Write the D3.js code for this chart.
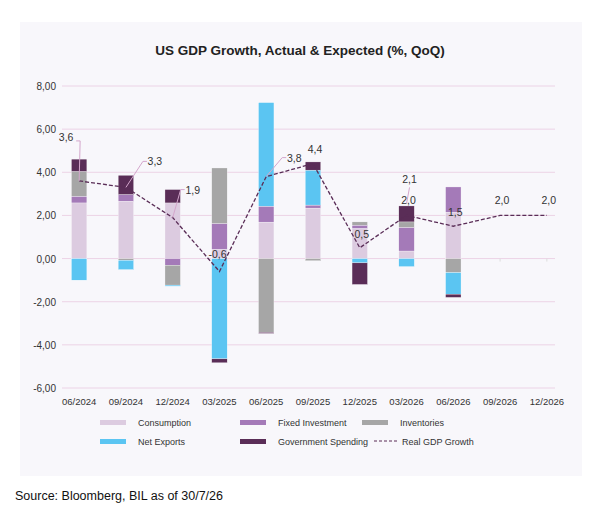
<!DOCTYPE html><html><head><meta charset="utf-8"><script src="https://cdn.jsdelivr.net/npm/d3@7"></script>
<style>body{margin:0;background:#fff;font-family:Arial,"Liberation Sans",sans-serif}</style></head><body><svg id="c" width="607" height="522"></svg>
<script>
const categories=["06/2024","09/2024","12/2024","03/2025","06/2025","09/2025","12/2025","03/2026","06/2026","09/2026","12/2026"];
const consumption=[2.58,2.66,2.58,0.43,1.69,2.34,1.4,0.35,2.15,null,null];
const fixedInvestment=[0.31,0.31,-0.31,1.2,0.74,0.14,0.15,1.1,1.17,null,null];
const inventories=[1.15,-0.08,-0.92,2.57,-3.42,-0.1,0.15,0.25,-0.65,null,null];
const netExports=[-1.0,-0.43,-0.05,-4.65,4.8,1.62,-0.2,-0.37,-1.0,null,null];
const govSpending=[0.57,0.89,0.62,-0.18,-0.05,0.38,-1.0,0.74,-0.15,null,null];
const realGDP=[3.6,3.3,1.9,-0.6,3.8,4.4,0.5,2.0,1.5,2.0,2.0];
const yTicks=[-6,-4,-2,0,2,4,6,8];
const labels=[["3,6",-13,-40,true],["3,3",27,-26,true],["1,9",18,-28,true],["-0,6",-2,-14,false],["3,8",26,-19,true],["4,4",0,-15,false],["0,5",0,-14,false],["2,0",0,-15,false],["1,5",0,-14,false],["2,0",0,-15,false],["2,0",0,-15,false]];
const extra={text:"2,1",cat:7,dy:-34};

const svg=d3.select("#c");
svg.append("rect").attr("x",20).attr("y",22).attr("width",562).attr("height",454).attr("fill","#f8f7fb");
svg.append("text").attr("x",300).attr("y",55).attr("text-anchor","middle").attr("font-weight","bold").attr("font-size",13.5).attr("fill","#222").text("US GDP Growth, Actual & Expected (%, QoQ)");
const x=d3.scaleBand().domain(categories).range([56,570]).paddingInner(0.67).paddingOuter(0.33);
const y=d3.scaleLinear().domain([-6,8]).range([388,86]);
const g=svg.append("g");
yTicks.forEach(t=>{g.append("line").attr("x1",62).attr("x2",555).attr("y1",y(t)).attr("y2",y(t)).attr("stroke","#ecd3e6").attr("stroke-width",1);
 g.append("text").attr("x",56).attr("y",y(t)+4).attr("text-anchor","end").attr("font-size",10).attr("fill","#333").text(d3.format(".2f")(t).replace(".",",").replace("−","-"));});
const series=[["Consumption",consumption,"#dccbe0"],["Fixed Investment",fixedInvestment,"#a47ab8"],["Inventories",inventories,"#a6a6a6"],["Net Exports",netExports,"#5bc5f2"],["Government Spending",govSpending,"#5a2d57"]];
categories.forEach((c,i)=>{let pos=0,neg=0;series.forEach(([n,v,col])=>{const d=v[i];if(d==null)return;let y0,y1;if(d>=0){y0=pos;y1=pos+d;pos=y1;}else{y0=neg;y1=neg+d;neg=y1;}
 g.append("rect").attr("x",x(c)).attr("width",x.bandwidth()).attr("y",y(Math.max(y0,y1))).attr("height",Math.abs(y(y0)-y(y1))).attr("fill",col).attr("stroke","#fff").attr("stroke-width",0.3);});});
categories.forEach((c,i)=>{if(i>8)g.append("line").attr("x1",x(c)+x.bandwidth()/2).attr("x2",x(c)+x.bandwidth()/2).attr("y1",y(0)).attr("y2",y(0)+3).attr("stroke","#ddd");});
const cx=c=>x(c)+x.bandwidth()/2;
g.append("path").datum(realGDP).attr("fill","none").attr("stroke","#5a2d57").attr("stroke-width",1.3).attr("stroke-dasharray","4,2")
 .attr("d",d3.line().x((d,i)=>cx(categories[i])).y(d=>y(d)));
labels.forEach(([t,dx,dy,lead],i)=>{const px=cx(categories[i]),py=y(realGDP[i]);
 if(lead){const ex=dx<0?px+1:px+dx-10, ey=py+dy;
  g.append("polyline").attr("points",`${px},${py} ${ex},${ey} ${dx<0?ex-4:ex+4},${ey}`).attr("fill","none").attr("stroke","#d4a6cc").attr("stroke-width",1);}
 g.append("text").attr("x",dx<0?px+dx:px+dx+2).attr("y",py+dy+(dx<0?0:4)).attr("text-anchor","middle").attr("font-size",10.5).attr("fill","#333").text(t);});
{const px=cx(categories[extra.cat]),py=y(realGDP[extra.cat]);
 g.append("line").attr("x1",px).attr("y1",py-12).attr("x2",px+3).attr("y2",py+extra.dy+6).attr("stroke","#d4a6cc");
 g.append("text").attr("x",px+3).attr("y",py+extra.dy+2).attr("text-anchor","middle").attr("font-size",10.5).attr("fill","#333").text(extra.text);}
categories.forEach(c=>g.append("text").attr("x",cx(c)).attr("y",405).attr("text-anchor","middle").attr("font-size",9.5).attr("fill","#333").text(c));
const leg=[["Consumption","#dccbe0",100,424],["Fixed Investment","#a47ab8",240,424],["Inventories","#a6a6a6",362,424],["Net Exports","#5bc5f2",100,443],["Government Spending","#5a2d57",240,443]];
leg.forEach(([n,col,lx,ly])=>{g.append("rect").attr("x",lx).attr("y",ly-4).attr("width",26).attr("height",5).attr("fill",col);
 g.append("text").attr("x",lx+38).attr("y",ly+2).attr("font-size",9).attr("fill","#333").text(n);});
g.append("line").attr("x1",374).attr("x2",398).attr("y1",441).attr("y2",441).attr("stroke","#5a2d57").attr("stroke-dasharray","3,2").attr("stroke-width",1.2);
g.append("text").attr("x",402).attr("y",445).attr("font-size",9).attr("fill","#333").text("Real GDP Growth");
svg.append("text").attr("x",15).attr("y",500).attr("font-size",12.5).attr("fill","#111").text("Source: Bloomberg, BIL as of 30/7/26");
</script></body></html>
